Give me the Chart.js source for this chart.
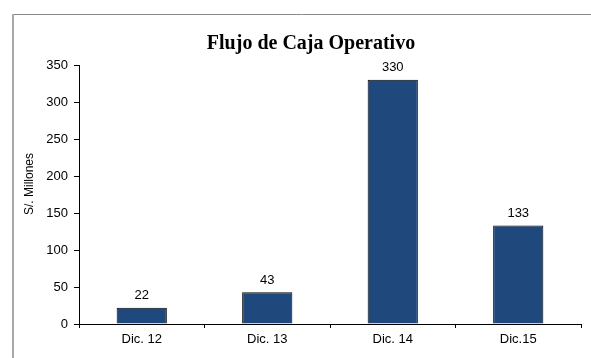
<!DOCTYPE html>
<html>
<head>
<meta charset="utf-8">
<script src="https://cdn.jsdelivr.net/npm/chart.js@4.4.1/dist/chart.umd.min.js"></script>
<style>
  html, body { margin: 0; padding: 0; background: #fff; }
  #wrap { position: relative; width: 591px; height: 358px; }
</style>
</head>
<body>
<div id="wrap"><canvas id="c" width="591" height="358"></canvas></div>
<script>
const categories = ['Dic. 12', 'Dic. 13', 'Dic. 14', 'Dic.15'];
const values = [22, 43, 330, 133];
const yTicks = [0, 50, 100, 150, 200, 250, 300, 350];
const titleText = 'Flujo de Caja Operativo';
const yTitle = 'S/. Millones';

const FONT = '"Liberation Sans", Arial, sans-serif';

const framePlugin = {
  id: 'frame',
  beforeDraw(chart) {
    const ctx = chart.ctx;
    ctx.save();
    ctx.fillStyle = '#fff';
    ctx.fillRect(0, 0, chart.width, chart.height);
    ctx.strokeStyle = '#8a8a8a';
    ctx.lineWidth = 1;
    ctx.beginPath();
    ctx.moveTo(12, 14.5);
    ctx.lineTo(chart.width, 14.5);
    ctx.stroke();
    ctx.strokeStyle = '#a8a8a8';
    ctx.lineWidth = 2;
    ctx.beginPath();
    ctx.moveTo(13, 14);
    ctx.lineTo(13, chart.height);
    ctx.stroke();
    ctx.restore();
  }
};

const labelPlugin = {
  id: 'labels',
  afterDatasetsDraw(chart) {
    const ctx = chart.ctx;
    const meta = chart.getDatasetMeta(0);
    ctx.save();
    ctx.font = '13px ' + FONT;
    ctx.fillStyle = '#000';
    ctx.textAlign = 'center';
    ctx.textBaseline = 'middle';
    meta.data.forEach((bar, i) => {
      ctx.fillText(String(values[i]), bar.x, bar.y - 12);
    });
    ctx.font = 'bold 20px "Liberation Serif", "Times New Roman", serif';
    ctx.fillText(titleText, 311, 44);
    // y-axis title
    ctx.font = '12px ' + FONT;
    ctx.translate(30, 184);
    ctx.rotate(-Math.PI / 2);
    ctx.fillText(yTitle, 0, 0);
    ctx.restore();
  }
};

new Chart(document.getElementById('c'), {
  type: 'bar',
  data: {
    labels: categories,
    datasets: [{
      data: values,
      backgroundColor: '#1F497D',
      borderColor: '#000',
      borderWidth: 1,
      categoryPercentage: 1,
      barPercentage: 0.4
    }]
  },
  options: {
    responsive: false,
    animation: false,
    devicePixelRatio: 1,
    layout: { padding: { left: 22, right: 10, top: 65, bottom: 0 } },
    plugins: { legend: { display: false }, tooltip: { enabled: false }, title: { display: false } },
    scales: {
      x: {
        grid: { offset: true, drawOnChartArea: false, tickLength: 4, color: '#000' },
        border: { color: '#000', width: 1 },
        ticks: { color: '#000', font: { family: FONT, size: 13 }, padding: 4, maxRotation: 0 },
        afterFit(scale) { scale.height = 34; }
      },
      y: {
        min: 0, max: 350,
        afterBuildTicks(scale) { scale.ticks = yTicks.map(v => ({ value: v })); },
        grid: { drawOnChartArea: false, tickLength: 5, color: '#000' },
        border: { color: '#000', width: 1 },
        ticks: { color: '#000', font: { family: FONT, size: 13 }, padding: 6 },
        title: { display: false },
        afterFit(scale) { scale.width = 57; }
      }
    }
  },
  plugins: [framePlugin, labelPlugin]
});
</script>
</body>
</html>
